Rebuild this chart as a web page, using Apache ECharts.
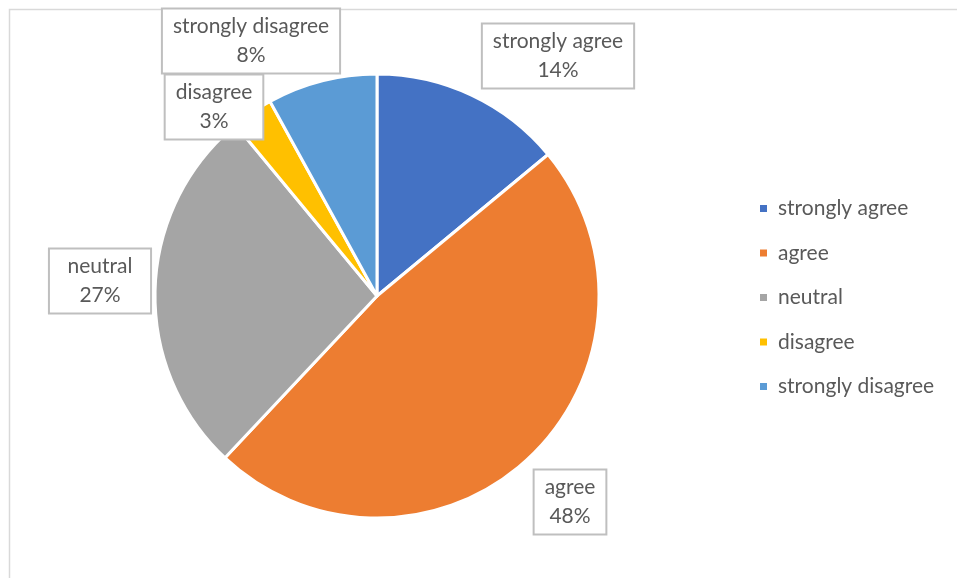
<!DOCTYPE html>
<html>
<head>
<meta charset="utf-8">
<style>
  html, body { margin: 0; padding: 0; background: #ffffff; }
  #chart { width: 957px; height: 578px; }
</style>
<script src="https://cdn.jsdelivr.net/npm/echarts@6/dist/echarts.min.js"></script>
</head>
<body>
<div id="chart"></div>
<script>
// Survey responses (share of respondents, %)
const categories = ['strongly agree', 'agree', 'neutral', 'disagree', 'strongly disagree'];
const shares = [14, 48, 27, 3, 8];
const colors = ['#4472C4', '#ED7D31', '#A5A5A5', '#FFC000', '#5B9BD5'];

// Where each data label box is centred (px)
const labelCentres = [[558, 56], [570, 502], [100, 281], [214, 107], [251, 41]];

const chart = echarts.init(document.getElementById('chart'), null, { renderer: 'canvas' });

const FONT = 'Lato, "Open Sans", sans-serif';

chart.setOption({
  animation: false,
  color: colors,
  graphic: [{
    type: 'rect',
    silent: true,
    shape: { x: 9.5, y: 9.5, width: 1000, height: 1000 },
    style: { fill: 'none', stroke: '#d9d9d9', lineWidth: 1.5 }
  }],
  legend: {
    orient: 'vertical',
    left: 753,
    top: 193,
    itemWidth: 9,
    itemHeight: 9,
    itemGap: 23.5,
    icon: 'rect',
    data: categories,
    textStyle: { fontFamily: FONT, fontSize: 21, color: '#595959', lineHeight: 20, padding: [0, 0, 0, 5] }
  },
  series: [{
    type: 'pie',
    center: [377, 296],
    radius: 222,
    startAngle: 90,
    clockwise: true,
    itemStyle: { borderColor: '#ffffff', borderWidth: 3 },
    label: {
      show: true,
      position: 'outside',
      formatter: '{b}\n{c}%',
      fontFamily: FONT,
      fontSize: 21,
      lineHeight: 29,
      color: '#595959',
      align: 'center',
      backgroundColor: '#ffffff',
      borderColor: '#bfbfbf',
      borderWidth: 2,
      padding: [3, 10, 2, 10]
    },
    labelLine: { show: false },
    labelLayout: function (p) {
      const c = labelCentres[p.dataIndex];
      return { x: c[0], y: c[1], align: 'center', verticalAlign: 'middle' };
    },
    emphasis: { disabled: true },
    data: categories.map((name, i) => ({ name: name, value: shares[i] }))
  }]
});
</script>
</body>
</html>
